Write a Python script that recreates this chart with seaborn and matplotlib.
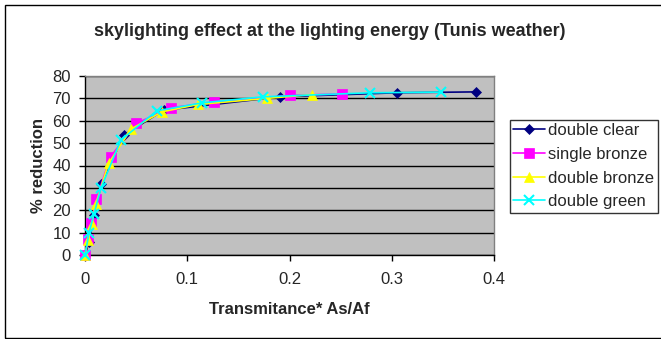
import matplotlib
matplotlib.use("Agg")
import matplotlib.pyplot as plt
from matplotlib.patches import Rectangle
import seaborn as sns
import pandas as pd

title = "skylighting effect at the lighting energy (Tunis weather)"
xlabel = "Transmitance* As/Af"
ylabel = "% reduction"

series_names = ["double clear", "single bronze", "double bronze", "double green"]

x_double_clear = [0, 0.004, 0.009, 0.016, 0.038, 0.077, 0.191, 0.305, 0.382]
y_double_clear = [0, 6, 18, 31.6, 53.6, 64.7, 70.7, 72.5, 72.9]

x_single_bronze = [0, 0.003, 0.0056, 0.011, 0.025, 0.050, 0.084, 0.126, 0.2005, 0.251]
y_single_bronze = [0, 7, 14.1, 24.9, 43.9, 58.8, 65.8, 68.4, 71.3, 72.0]

x_double_bronze = [0, 0.003, 0.0066, 0.0105, 0.023, 0.045, 0.0753, 0.111, 0.178, 0.222]
y_double_bronze = [0, 6.7, 13.7, 22.8, 40.9, 56.3, 64.0, 67.3, 70.0, 71.7]

x_double_green = [0, 0.004, 0.0088, 0.0155, 0.035, 0.070, 0.1146, 0.174, 0.279, 0.3486]
y_double_green = [0, 10, 18.3, 29.8, 51.3, 64.4, 68.0, 70.7, 72.5, 72.8]

xs = [x_double_clear, x_single_bronze, x_double_bronze, x_double_green]
ys = [y_double_clear, y_single_bronze, y_double_bronze, y_double_green]

colors = ["#000080", "#FF00FF", "#FFFF00", "#00FFFF"]
markers = ["D", "s", "^", "x"]
msizes = [5, 6.5, 7, 7]

x_ticks = [0, 0.1, 0.2, 0.3, 0.4]
x_ticklabels = ["0", "0.1", "0.2", "0.3", "0.4"]
y_ticks = [0, 10, 20, 30, 40, 50, 60, 70, 80]

sns.set_style("white")
plt.rcParams["font.family"] = ["Liberation Sans", "DejaVu Sans"]

fig = plt.figure(figsize=(6.61, 3.39), dpi=100)
ax = fig.add_axes([85 / 661, 1 - 255 / 339, (494 - 85) / 661, (255 - 76) / 339])
ax.set_facecolor("#C0C0C0")

for name, x, y, c, m, ms in zip(series_names, xs, ys, colors, markers, msizes):
    df = pd.DataFrame({"x": x, "y": y})
    kw = dict(marker=m, markersize=ms, color=c, linewidth=1.2)
    if m == "x":
        kw.update(markeredgewidth=1.5, markeredgecolor=c)
    else:
        kw.update(markeredgewidth=0.5, markeredgecolor=c, markerfacecolor=c)
    sns.lineplot(data=df, x="x", y="y", ax=ax, sort=False, label=name,
                 estimator=None, clip_on=False, zorder=3, **kw)

ax.set_xlim(0, 0.4)
ax.set_ylim(0, 80)
ax.set_xticks(x_ticks)
ax.set_xticklabels(x_ticklabels)
ax.set_yticks(y_ticks)
ax.yaxis.grid(True, color="black", linewidth=1.0)
ax.xaxis.grid(False)
ax.set_axisbelow(True)
for side in ["top", "right"]:
    ax.spines[side].set_visible(True)
    ax.spines[side].set_color("#808080")
    ax.spines[side].set_linewidth(1.0)
for side in ["left", "bottom"]:
    ax.spines[side].set_color("black")
    ax.spines[side].set_linewidth(1.0)
ax.tick_params(axis="both", which="major", direction="out", length=4, width=1,
               color="black", labelsize=12, left=True, bottom=True)
ax.tick_params(axis="x", pad=8)
ax.tick_params(axis="y", pad=6)

ax.set_xlabel(xlabel, fontsize=12, fontweight="bold", labelpad=11)
ax.set_ylabel(ylabel, fontsize=12, fontweight="bold", labelpad=5)

fig.text(330 / 661, 1 - 31 / 339, title, ha="center", va="center",
         fontsize=13, fontweight="bold")

leg = ax.legend(loc="upper left", bbox_to_anchor=(510 / 661, 1 - 120 / 339),
                bbox_transform=fig.transFigure, frameon=True, fancybox=False,
                fontsize=12, borderpad=0.2, labelspacing=0.52, handlelength=1.9,
                handletextpad=0.2, borderaxespad=0)
leg.get_frame().set_edgecolor("black")
leg.get_frame().set_linewidth(1.0)

fig.patches.append(Rectangle((5 / 661, 1 - 338 / 339), 660 / 661, 333 / 339,
                             transform=fig.transFigure, fill=False,
                             edgecolor="black", linewidth=1.0))

fig.savefig("out.png", dpi=100)
